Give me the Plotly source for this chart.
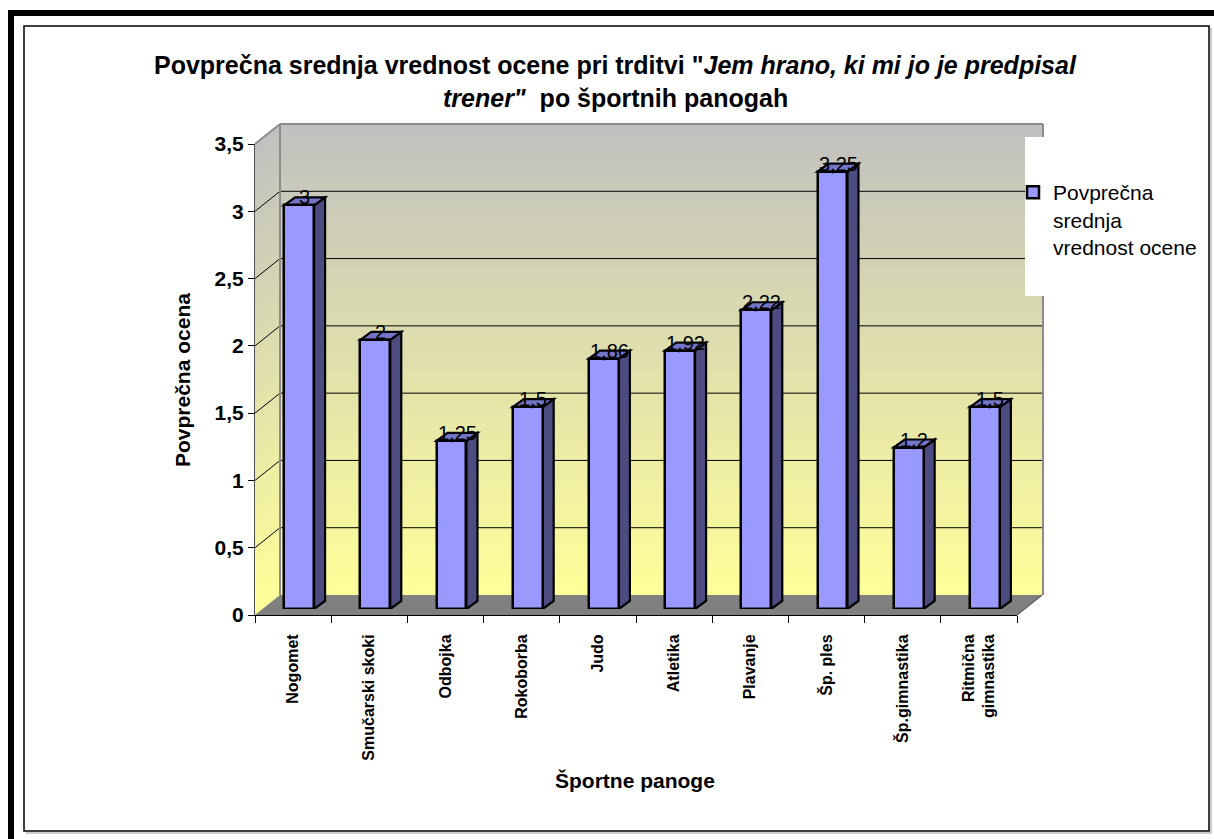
import plotly.graph_objects as go

# ---- data -------------------------------------------------------------
categories = ["Nogomet", "Smučarski skoki", "Odbojka", "Rokoborba", "Judo",
              "Atletika", "Plavanje", "Šp. ples", "Šp.gimnastika",
              "Ritmična<br>gimnastika"]
values = [3, 2, 1.25, 1.5, 1.86, 1.92, 2.22, 3.25, 1.2, 1.5]
y_ticks = [0, 0.5, 1, 1.5, 2, 2.5, 3, 3.5]
y_tick_labels = ["0", "0,5", "1", "1,5", "2", "2,5", "3", "3,5"]
series_name = "Povprečna<br>srednja<br>vrednost ocene"
title_line1 = 'Povprečna srednja vrednost ocene pri trditvi "<i>Jem hrano, ki mi jo je predpisal</i>'
title_line2 = '<i>trener"</i>  po športnih panogah'
y_title = "Povprečna ocena"
x_title = "Športne panoge"

# ---- geometry (pixels) ------------------------------------------------
W, H = 1214, 839
FX0, FX1 = 255, 1017          # front plane, category axis extent
FY0, FY1 = 615, 144           # front plane, value 0 .. value max
Y_MAX = 3.5
DEPTH_X, DEPTH_Y = 25, -20    # offset of the back wall
BAR_DX, BAR_DY = 6, -6        # offset of the bar plane
BAR_WIDTH = 0.393             # in category units
SIDE_DX = 11 / ((FX1 - FX0) / len(categories))   # bar depth, category units
SIDE_DY = 8 / ((FY0 - FY1) / Y_MAX)              # bar depth, value units

FONT = "Arial, Liberation Sans, sans-serif"
n = len(categories)


def px(x):
    return x / W


def py(y):
    return 1 - y / H


def fmt(v):
    return f"{v:g}".replace(".", ",")


shapes = []


def poly(points, fill, line_color=None, line_width=0, ref="paper", layer="below"):
    if ref == "paper":
        path = "M " + " L ".join(f"{px(x):.5f},{py(y):.5f}" for x, y in points) + " Z"
        xref, yref = "paper", "paper"
    else:
        path = "M " + " L ".join(f"{x:.5f},{y:.5f}" for x, y in points) + " Z"
        xref, yref = "x2", "y2"
    shapes.append(dict(type="path", path=path, xref=xref, yref=yref, layer=layer,
                       fillcolor=fill,
                       line=dict(color=line_color or "rgba(0,0,0,0)", width=line_width)))


def seg(x0, y0, x1, y1, color, width):
    shapes.append(dict(type="line", xref="paper", yref="paper", layer="below",
                       x0=px(x0), y0=py(y0), x1=px(x1), y1=py(y1),
                       line=dict(color=color, width=width)))


# ---- walls: vertical gradient gray -> pale yellow ---------------------
BX0, BX1 = FX0 + DEPTH_X, FX1 + DEPTH_X
BY0, BY1 = FY0 + DEPTH_Y, FY1 + DEPTH_Y
top_rgb = (192, 192, 192)
bot_rgb = (255, 255, 153)
steps = 96
band = (BY0 - BY1) / steps
for k in range(steps):
    t = (k + 0.5) / steps
    c = tuple(round(a + (b - a) * t) for a, b in zip(top_rgb, bot_rgb))
    col = f"rgb({c[0]},{c[1]},{c[2]})"
    a = BY1 + k * band
    b = min(BY1 + (k + 1) * band + 0.6, BY0)
    poly([(BX0, a), (BX1 + 1, a), (BX1 + 1, b), (BX0, b)], col)
    poly([(FX0, a - DEPTH_Y), (BX0 + 0.6, a), (BX0 + 0.6, b), (FX0, b - DEPTH_Y)], col)

# floor
poly([(FX0, FY0), (FX1, FY0), (BX1, BY0), (BX0, BY0)], "#808080")


def front_y(v):
    return FY0 - v / Y_MAX * (FY0 - FY1)


# gridlines on back wall and side wall
for v in y_ticks[1:-1]:
    yb = front_y(v) + DEPTH_Y
    seg(BX0, yb, BX1, yb, "black", 1)
    seg(FX0, front_y(v), BX0, yb, "black", 1)

# wall outlines
seg(BX0, BY1, BX1 + 1, BY1, "#8c8c8c", 2)
seg(BX1 + 1, BY1, BX1 + 1, BY0, "#8c8c8c", 2)
seg(BX0, BY1, BX0, BY0, "#8c8c8c", 2)
seg(FX0, FY1, BX0, BY1, "#8c8c8c", 2)
seg(FX1, FY0, BX1, BY0, "#606060", 1.5)

# legend background panel
poly([(1025, 137), (1209, 137), (1209, 296), (1025, 296)], "white")

# outer frame
poly([(8, 10), (W, 10), (W, 16), (8, 16)], "black")
poly([(8, 10), (14, 10), (14, H), (8, H)], "black")
shapes.append(dict(type="rect", xref="paper", yref="paper", layer="below",
                   x0=px(24), y0=py(831), x1=px(1209), y1=py(26),
                   line=dict(color="black", width=1.5), fillcolor="rgba(0,0,0,0)"))
seg(1211, 28, 1211, 833, "#9a9a9a", 1)
seg(26, 833, 1211, 833, "#9a9a9a", 1)

# ---- 3D faces of the bars (side and top), from the values ------------
h = BAR_WIDTH / 2
for i, v in enumerate(values):
    poly([(i + h, 0), (i + h + SIDE_DX, SIDE_DY), (i + h + SIDE_DX, v + SIDE_DY), (i + h, v)],
         "#4c4c80", "black", 2.2, ref="data")
    poly([(i - h, v), (i - h + SIDE_DX, v + SIDE_DY), (i + h + SIDE_DX, v + SIDE_DY), (i + h, v)],
         "#7474c8", "black", 2.2, ref="data")

# ---- traces -----------------------------------------------------------
fig = go.Figure()
# carrier trace for the front-plane axes (ticks and labels)
fig.add_trace(go.Scatter(
    x=list(range(n)), y=values, xaxis="x", yaxis="y", mode="markers",
    marker=dict(opacity=0), hoverinfo="skip", showlegend=False,
))
fig.add_trace(go.Bar(
    x=list(range(n)), y=values, xaxis="x2", yaxis="y2",
    width=BAR_WIDTH, name=series_name,
    marker=dict(color="#9999ff", line=dict(color="black", width=2.5)),
    hoverinfo="skip", showlegend=True,
))

# ---- annotations ------------------------------------------------------
annotations = []
for i, v in enumerate(values):
    annotations.append(dict(x=i + SIDE_DX / 2, y=v, xref="x2", yref="y2",
                            text=fmt(v), showarrow=False, yanchor="middle",
                            yshift=8, font=dict(family=FONT, size=20, color="black")))

annotations += [
    dict(x=px(615), y=py(65), xref="paper", yref="paper", text=f"<b>{title_line1}</b>",
         showarrow=False, xanchor="center", yanchor="middle",
         font=dict(family=FONT, size=25, color="black")),
    dict(x=px(615), y=py(98), xref="paper", yref="paper", text=f"<b>{title_line2}</b>",
         showarrow=False, xanchor="center", yanchor="middle",
         font=dict(family=FONT, size=25, color="black")),
    dict(x=px(182), y=py(380), xref="paper", yref="paper", text=f"<b>{y_title}</b>",
         showarrow=False, textangle=-90, xanchor="center", yanchor="middle",
         font=dict(family=FONT, size=21, color="black")),
    dict(x=px(635), y=py(780), xref="paper", yref="paper", text=f"<b>{x_title}</b>",
         showarrow=False, xanchor="center", yanchor="middle",
         font=dict(family=FONT, size=21, color="black")),
]

fig.update_layout(
    width=W, height=H,
    margin=dict(l=0, r=0, t=0, b=0, pad=0, autoexpand=False),
    paper_bgcolor="white", plot_bgcolor="rgba(0,0,0,0)",
    font=dict(family=FONT, color="black"),
    shapes=shapes, annotations=annotations,
    xaxis=dict(domain=[px(FX0), px(FX1)], range=[-0.5, n - 0.5],
               tickmode="array", tickvals=list(range(n)), ticktext=categories,
               ticks="", tickangle=-90, ticklabelstandoff=12,
               minor=dict(tickmode="array", tickvals=[i - 0.5 for i in range(n + 1)],
                          ticks="outside", ticklen=7, tickcolor="black", tickwidth=1),
               tickfont=dict(family=FONT, size=16, color="black", weight="bold"),
               showline=True, linecolor="black", linewidth=1, automargin=False,
               showgrid=False, zeroline=False, fixedrange=True, anchor="y"),
    yaxis=dict(domain=[py(FY0), py(FY1)], range=[0, Y_MAX],
               tickmode="array", tickvals=y_ticks, ticktext=y_tick_labels,
               ticks="outside", ticklen=6, tickcolor="black",
               tickfont=dict(family=FONT, size=21, color="black", weight="bold"),
               showline=True, linecolor="#505050", linewidth=1, automargin=False,
               showgrid=False, zeroline=False, fixedrange=True, anchor="x"),
    xaxis2=dict(domain=[px(FX0 + BAR_DX), px(FX1 + BAR_DX)], range=[-0.5, n - 0.5],
                visible=False, fixedrange=True, anchor="y2", automargin=False),
    yaxis2=dict(domain=[py(FY0 + BAR_DY), py(FY1 + BAR_DY)], range=[0, Y_MAX],
                visible=False, fixedrange=True, anchor="x2", automargin=False),
    legend=dict(x=px(1013), y=py(172), xanchor="left", yanchor="top",
                bgcolor="rgba(0,0,0,0)", borderwidth=0, valign="top",
                font=dict(family=FONT, size=21, color="black")),
    showlegend=True,
    bargap=0,
)

fig.write_html("out.html")
